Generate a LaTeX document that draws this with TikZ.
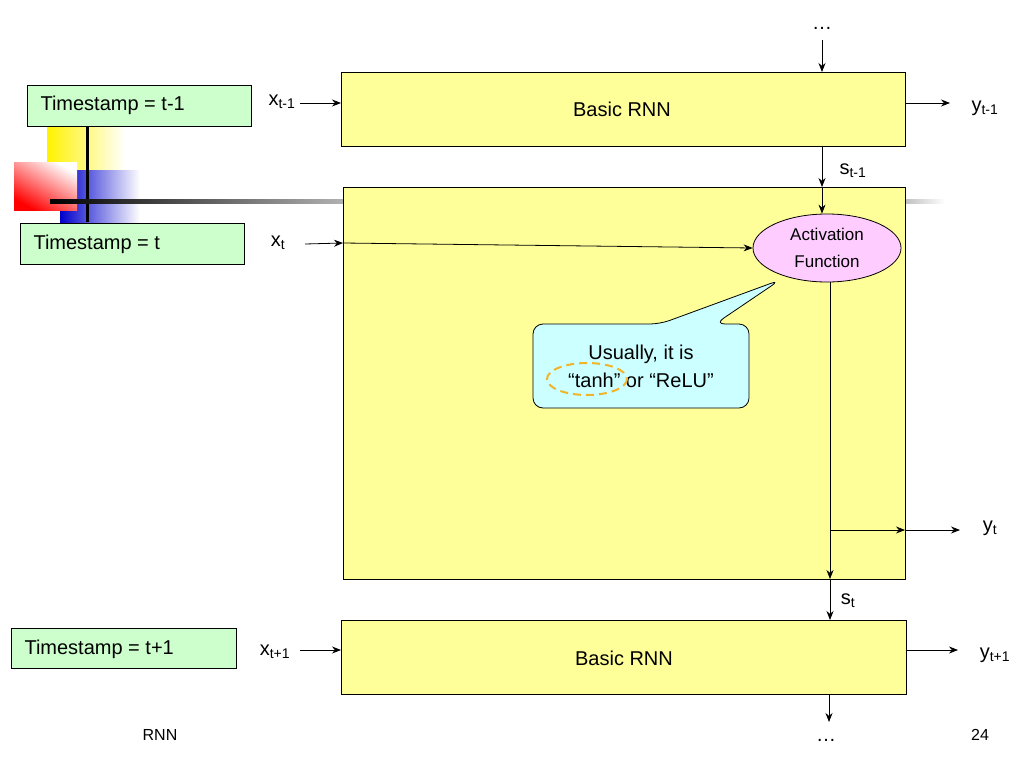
\documentclass[tikz,border=0pt]{standalone}
\usepackage{fontspec}
\setmainfont{Liberation Sans}
\usetikzlibrary{arrows.meta,shapes.geometric,shapes.callouts}
\definecolor{by}{RGB}{255,255,153}
\definecolor{tg}{RGB}{204,255,204}
\definecolor{pk}{RGB}{255,204,255}
\definecolor{cy}{RGB}{204,255,255}
\definecolor{og}{RGB}{240,180,40}
\tikzset{
  blk/.style={draw,fill=by,line width=0.8pt},
  ts/.style={draw,fill=tg,line width=0.8pt,font=\fontsize{20}{24}\selectfont,inner sep=0pt},
  lbl/.style={font=\fontsize{20}{24}\selectfont},
  arr/.style={-{Stealth[length=9pt,width=7pt]},line width=0.8pt},
}
\newcommand{\ssub}[2]{#1\textsubscript{#2}}
\begin{document}
\begin{tikzpicture}[x=1pt,y=-1pt]
\useasboundingbox (0,0) rectangle (1024,768);
% decoration
\shade[left color=yellow!90!orange,right color=white] (47,125) rectangle (125,190);
\shade[left color=blue!80!black,right color=white] (60,170) rectangle (140,222);
\shade[left color=white,right color=red,shading angle=-30] (14,162) rectangle (77,210);
\draw[line width=3pt] (87,126) -- (87,222);
\shade[left color=black,right color=gray!60] (50,199) rectangle (345,203);
\shade[left color=gray!50,right color=white] (905,199) rectangle (945,203);
% blocks
\node[blk,minimum width=564,minimum height=74,anchor=north west,lbl] (top) at (341,72) {};
\node[lbl] (toptxt) at (622,109) {Basic RNN};
\node[blk,minimum width=562,minimum height=392,anchor=north west] (mid) at (343,187) {};
\node[blk,minimum width=565,minimum height=74,anchor=north west] (bot) at (341,620) {};
\node[lbl] (bottxt) at (624,658) {Basic RNN};
% timestamps
\node[ts,minimum width=224,minimum height=41,anchor=north west] (t1) at (27,85) {};
\node[lbl,anchor=west] at (37,105) {Timestamp = t-1};
\node[ts,minimum width=224,minimum height=41,anchor=north west] (t2) at (20,223) {};
\node[lbl,anchor=west] at (30,244) {Timestamp = t};
\node[ts,minimum width=225,minimum height=40,anchor=north west] (t3) at (11,628) {};
\node[lbl,anchor=west] at (21,649) {Timestamp = t+1};
% activation
\node[ellipse,draw,fill=pk,line width=0.8pt,minimum width=148,minimum height=68,inner sep=0pt,align=center,font=\fontsize{17}{27}\selectfont] (act) at (827,248) {Activation\\Function};
% callout
\draw[fill=cy,line width=0.8pt,rounded corners=10pt] (533,324) -- (660,324) -- (780,280) -- (715,324) -- (749,324) -- (749,408) -- (533,408) -- cycle;
\node[align=center,font=\fontsize{20}{28}\selectfont] (note) at (641,366) {Usually, it is\\“tanh” or “ReLU”};
\draw[og,dashed,line width=2pt,dash pattern=on 8pt off 5pt] (587,379) ellipse (40 and 16);
% labels
\node[lbl] (xa) at (282,102) {\ssub{x}{t-1}};
\node[lbl] (xb) at (278,243) {\ssub{x}{t}};
\node[lbl] (xc) at (275,652) {\ssub{x}{t+1}};
\node[lbl] (ya) at (985,108) {\ssub{y}{t-1}};
\node[lbl] (yb) at (990,528) {\ssub{y}{t}};
\node[lbl] (yc) at (995,655) {\ssub{y}{t+1}};
\node[lbl] (sa) at (853,171) {\ssub{s}{t-1}};
\node[lbl] (sb) at (848,601) {\ssub{s}{t}};
\node[lbl] (dt) at (822,28) {…};
\node[lbl] (db) at (826,740) {…};
\node[font=\fontsize{16}{20}\selectfont] at (160,735) {RNN};
\node[font=\fontsize{16}{20}\selectfont] at (980,735) {24};
% coordinates
\coordinate (c1) at (300,103); \coordinate (c1e) at (341,103);
\coordinate (c2) at (305,244); \coordinate (c2m) at (343,243);
\coordinate (c3) at (300,650); \coordinate (c3e) at (341,650);
\coordinate (ya0) at (905,103); \coordinate (ya1) at (950,103);
\coordinate (yc0) at (906,650); \coordinate (yc1) at (958,650);
\coordinate (v0) at (830,282); \coordinate (v1) at (830,579); \coordinate (v2) at (830,620);
\coordinate (h0) at (830,530); \coordinate (h1) at (905,530); \coordinate (h2) at (960,530);
\coordinate (tA) at (822,40); \coordinate (tB) at (822,72);
\coordinate (sA) at (822,146); \coordinate (sB) at (822,187);
\coordinate (bA) at (829,694); \coordinate (bB) at (829,722);
% arrows
\draw[arr] (c1) -- (c1e);
\draw[arr] (c2) -- (c2m);
\draw[arr] (c2m) -- (act.west);
\draw[arr] (c3) -- (c3e);
\draw[arr] (ya0) -- (ya1);
\draw[arr] (yc0) -- (yc1);
\draw[arr] (tA) -- (tB);
\draw[arr] (sA) -- (sB);
\draw[arr] (sB) -- (act.north -| sB);
\draw[arr] (v0) -- (v1);
\draw[arr] (v1) -- (v2);
\draw[arr] (h0) -- (h1);
\draw[arr] (h1) -- (h2);
\draw[arr] (bA) -- (bB);
\end{tikzpicture}
\end{document}
